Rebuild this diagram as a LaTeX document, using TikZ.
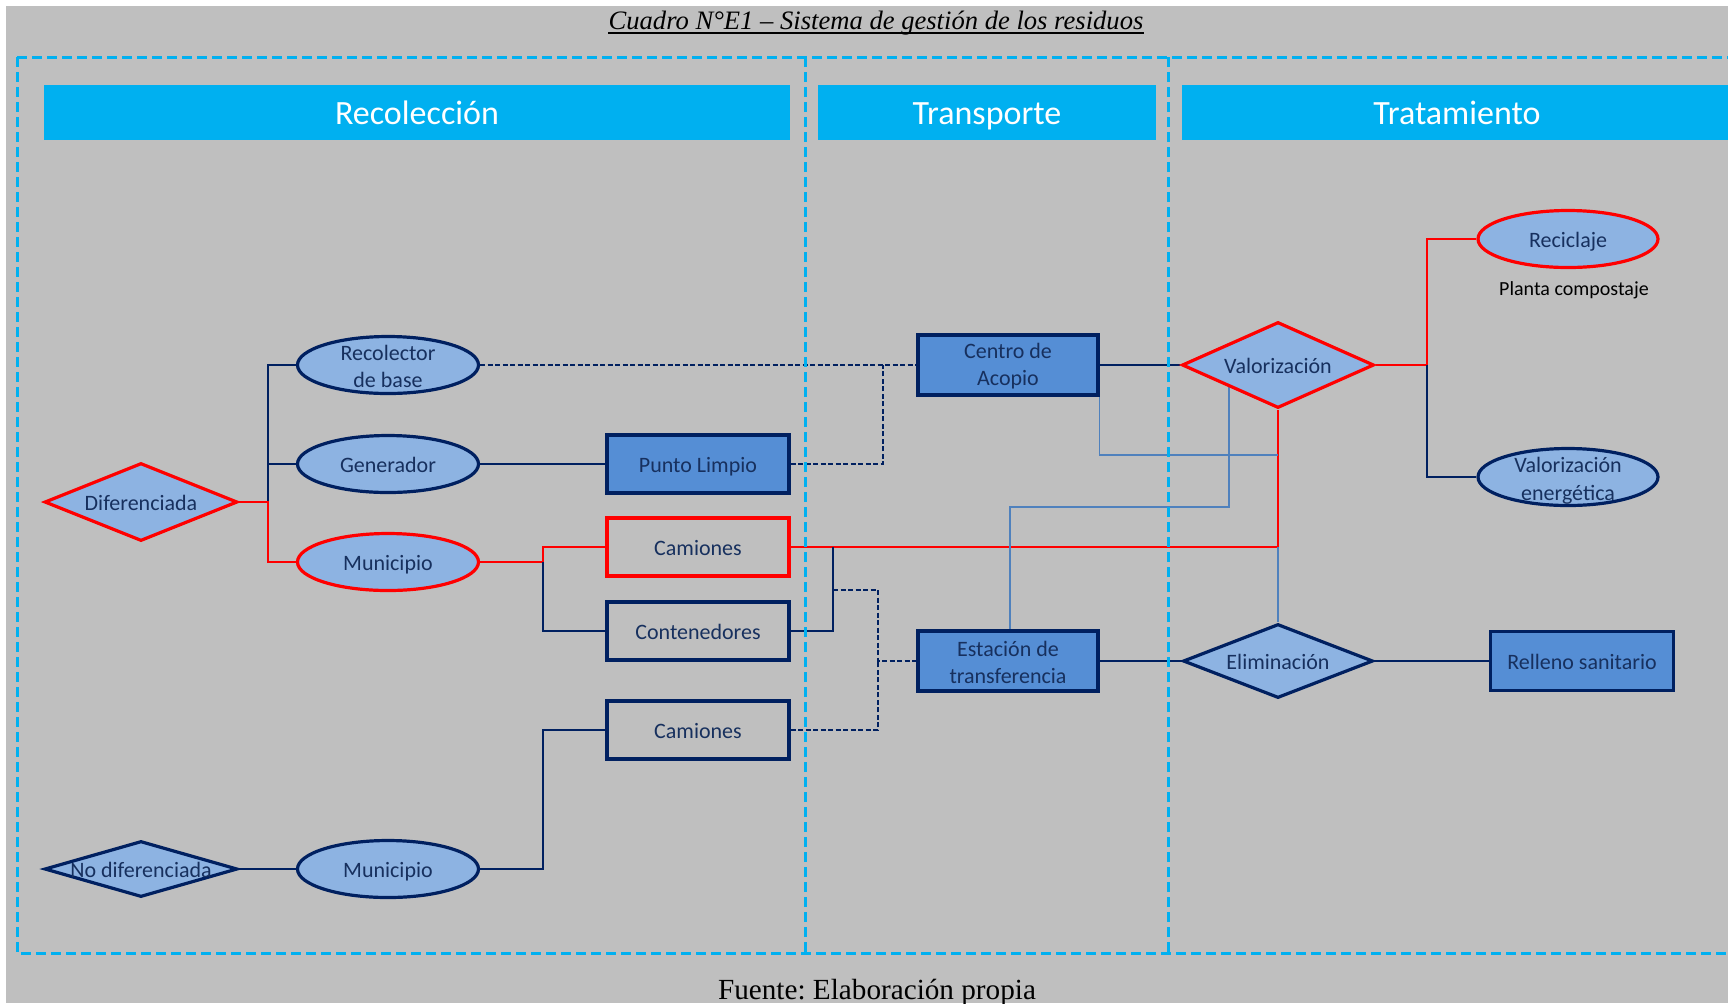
\documentclass[tikz,border=0pt]{standalone}
\usepackage{fontspec}
\setmainfont{Liberation Serif}
\newfontfamily\calibri{Carlito}
\usetikzlibrary{shapes.geometric}
\definecolor{bggray}{HTML}{BFBFBF}
\definecolor{cyanb}{HTML}{00B0F0}
\definecolor{navy}{HTML}{002060}
\definecolor{lblue}{HTML}{8DB3E2}
\definecolor{mblue}{HTML}{558ED5}
\definecolor{steel}{HTML}{4F81BD}
\definecolor{txtc}{HTML}{17305E}
\pgfdeclarelayer{canvas}
\pgfdeclarelayer{back}
\pgfsetlayers{canvas,back,main}
\frenchspacing
\begin{document}
\begin{tikzpicture}[x=0.5pt,y=-0.5pt,
  nfont/.style={font=\calibri\fontsize{11}{13.5}\selectfont, text=txtc, align=center},
  one/.style={text height=9.6pt, text depth=1pt},
  two/.style={nfont, yshift=-0.7pt},
  ell/.style={ellipse, draw=navy, line width=1.6pt, fill=lblue, minimum width=90.5pt, minimum height=28.5pt, inner sep=0pt, nfont},
  dia/.style={diamond, draw=navy, line width=1.6pt, fill=lblue, inner sep=0pt, nfont, one},
  box/.style={rectangle, draw=navy, line width=1.6pt, fill=mblue, minimum width=91pt, minimum height=29pt, inner sep=0pt, nfont},
  hdr/.style={rectangle, fill=cyanb, text=white, font=\calibri\fontsize{17}{20}\selectfont, minimum height=27.5pt, inner sep=0pt, text height=13.2pt, text depth=1.6pt},
  navc/.style={draw=navy, line width=0.85pt},
  navd/.style={draw=navy, line width=1pt, dash pattern=on 2.5pt off 1.25pt},
  redc/.style={draw=red, line width=1pt},
  stc/.style={draw=steel, line width=0.8pt},
  sect/.style={draw=cyanb, line width=1.5pt, dash pattern=on 5pt off 2.5pt},
]
\useasboundingbox (0,0) rectangle (1728,1003);
\begin{pgfonlayer}{canvas}
\fill[white] (0,0) rectangle (1728,1003);
\fill[bggray] (6,6) rectangle (1728,1003);
\end{pgfonlayer}

% title and source
\node[font=\fontsize{13.3}{16}\selectfont\itshape, anchor=base, inner sep=0pt] (title) at (876,29) {Cuadro N°E1 – Sistema de gestión de los residuos};
\draw[line width=1pt] ([yshift=-2.2pt]title.base west) -- ([yshift=-2.2pt]title.base east);
\node[font=\fontsize{14.6}{17}\selectfont, anchor=base, inner sep=0pt] (fuente) at (877,999) {Fuente: Elaboración propia};

% headers
\node[hdr, minimum width=373pt] (hrec) at (417,112.5) {Recolección};
\node[hdr, minimum width=169pt] (htra) at (987,112.5) {Transporte};
\node[hdr, minimum width=275pt] (htrat) at (1457,112.5) {Tratamiento};

% nodes
\node[dia, draw=red, aspect=2.47, minimum width=96.5pt, minimum height=39pt] (dif) at (141,502) {Diferenciada};
\node[dia, aspect=3.45, minimum width=96.5pt, minimum height=28pt] (nodif) at (141,869) {\makebox[0pt]{No diferenciada}};
\node[ell, label={[two]center:Recolector\\de base}] (rec) at (388,365) {};
\node[ell, one] (gen) at (388,464) {Generador};
\node[ell, one, draw=red] (mun) at (388,562) {Municipio};
\node[ell, one] (mun2) at (388,869) {Municipio};
\node[box, one] (pl) at (698,464) {Punto Limpio};
\node[box, one, fill=none, draw=red, line width=1.7pt] (cam1) at (698,547) {Camiones};
\node[box, one, fill=none] (cont) at (698,631) {Contenedores};
\node[box, one, fill=none] (cam2) at (698,730) {Camiones};
\node[box, minimum width=90pt, minimum height=30pt, label={[two]center:Centro de\\Acopio}] (acop) at (1008,365) {};
\node[box, minimum width=90pt, minimum height=30pt, label={[two]center:Estación de\\transferencia}] (est) at (1008,661) {};
\node[dia, draw=red, aspect=2.23, minimum width=96pt, minimum height=43pt] (val) at (1278,365) {Valorización};
\node[dia, aspect=2.57, minimum width=95pt, minimum height=37pt] (elim) at (1278,661) {Eliminación};
\node[box, one, minimum width=91.5pt, minimum height=29.5pt] (rell) at (1582,661) {Relleno sanitario};
\node[ell, one, draw=red, minimum width=90pt] (recic) at (1568,239) {Reciclaje};
\node[ell, minimum width=90pt, label={[nfont, yshift=-1.8pt, font=\calibri\fontsize{11}{14.3}\selectfont]center:Valorización\\energética}] (venerg) at (1568,477) {};
\node[font=\calibri\fontsize{10}{12}\selectfont, text=black, inner sep=0pt] (planta) at (1574,290) {Planta compostaje};

% connectors
\begin{pgfonlayer}{back}
\coordinate (j1) at (268,502);
\draw[navc] (rec.west) -| (j1);
\draw[navc] (gen.west) -- (gen.west -| j1);
\draw[redc] (dif.east) -- (j1) |- (mun.west);
\draw[navd] (rec.east) -- (acop.west);
\draw[navc] (gen.east) -- (pl.west);
\coordinate (j2) at (883,365);
\draw[navd] (pl.east) -| (j2);
\coordinate (j3) at (543,562);
\draw[redc] (mun.east) -- (j3) |- (cam1.west);
\draw[navc] (j3) |- (cont.west);
\draw[redc] (cam1.east) -| (val.south);
\coordinate (j4) at (833,547);
\draw[navc] (cont.east) -| (j4);
\coordinate (j4b) at (833,590);
\coordinate (j5) at (878,661);
\draw[navd] (j4b) -| (j5) -- (est.west);
\draw[navd] (cam2.east) -| (j5);
\coordinate (j6) at (543,730);
\draw[navc] (nodif.east) -- (mun2.west);
\draw[navc] (mun2.east) -| (j6) -- (cam2.west);
\draw[navc] (acop.east) -- (val.west);
\coordinate (j7) at (1278,455);
\draw[stc] (acop.east) |- (j7);
\coordinate (j8) at (1010,507);
\draw[stc] (est.north -| j8) -- (j8) -| (val.south west);
\draw[stc] (cam1.east -| val.south) -- (elim.north);
\coordinate (j9) at (1427,365);
\draw[redc] (val.east) -- (j9) |- (recic.west);
\draw[navc] (j9) |- (venerg.west);
\draw[navc] (est.east) -- (elim.west);
\draw[navc] (elim.east) -- (rell.west);
\end{pgfonlayer}

% section frames
\draw[sect] (17,57) -- (1740,57);
\draw[sect] (17,57) -- (17,953) -- (1740,953);
\draw[sect] (805,57) -- (805,953);
\draw[sect] (1168,57) -- (1168,953);
\end{tikzpicture}
\end{document}
